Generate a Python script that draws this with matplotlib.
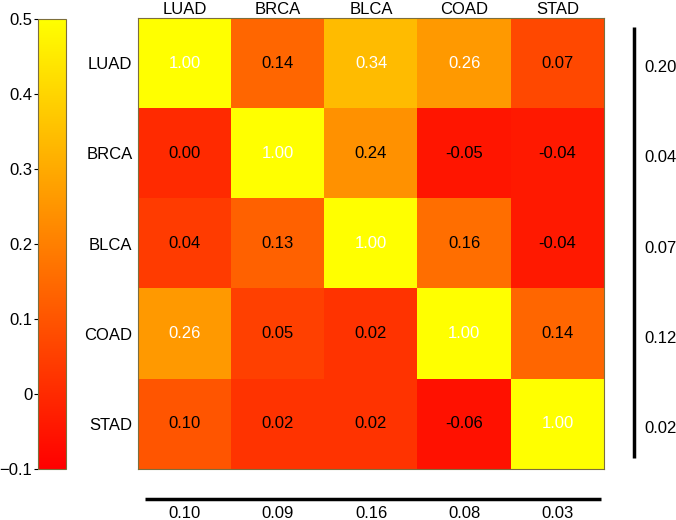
import numpy as np
import matplotlib
matplotlib.use("Agg")
import matplotlib.pyplot as plt
from matplotlib.transforms import blended_transform_factory
from matplotlib.ticker import FuncFormatter

plt.rcParams['font.family'] = ['Liberation Sans', 'DejaVu Sans']

cancers = ["LUAD", "BRCA", "BLCA", "COAD", "STAD"]
corr = np.array([
    [1.00, 0.14, 0.34, 0.26, 0.07],
    [0.00, 1.00, 0.24, -0.05, -0.04],
    [0.04, 0.13, 1.00, 0.16, -0.04],
    [0.26, 0.05, 0.02, 1.00, 0.14],
    [0.10, 0.02, 0.02, -0.06, 1.00],
])
row_side = [0.20, 0.04, 0.07, 0.12, 0.02]
col_side = [0.10, 0.09, 0.16, 0.08, 0.03]
cbar_ticks = [-0.1, 0, 0.1, 0.2, 0.3, 0.4, 0.5]

W, H = 676, 520
FS = 12
fig = plt.figure(figsize=(W / 100, H / 100), dpi=100)

def rect(x0, y0, x1, y1):
    return [x0 / W, 1 - y1 / H, (x1 - x0) / W, (y1 - y0) / H]

edge = '#7d6e3c'
ax = fig.add_axes(rect(138, 18, 604, 469))
im = ax.imshow(corr, cmap='autumn', vmin=-0.1, vmax=0.5, aspect='auto',
               interpolation='nearest')
ax.set_xticks(range(len(cancers)))
ax.set_xticklabels(cancers, fontsize=FS)
ax.set_yticks(range(len(cancers)))
ax.set_yticklabels(cancers, fontsize=FS)
ax.xaxis.tick_top()
ax.tick_params(axis='both', length=0)
ax.tick_params(axis='x', pad=1)
ax.tick_params(axis='y', pad=4)
for s in ax.spines.values():
    s.set_color(edge)
    s.set_linewidth(0.8)

for i in range(corr.shape[0]):
    for j in range(corr.shape[1]):
        v = corr[i, j]
        ax.text(j, i, f"{v:.2f}", ha='center', va='center', fontsize=FS,
                color='white' if v > 0.25 else 'black')

# right side values
tr = blended_transform_factory(ax.transAxes, ax.transData)
ax.plot([1.0644, 1.0644], [0.0244, 0.980], transform=ax.transAxes,
        color='black', lw=2.5, clip_on=False, solid_capstyle='butt')
for i, v in enumerate(row_side):
    ax.text(1.087, i + 0.05, f"{v:.2f}", transform=tr, ha='left', va='center',
            fontsize=FS)

# bottom values
tb = blended_transform_factory(ax.transData, ax.transAxes)
ax.plot([0.015, 0.9936], [-0.0665, -0.0665], transform=ax.transAxes,
        color='black', lw=2.5, clip_on=False, solid_capstyle='butt')
for j, v in enumerate(col_side):
    ax.text(j, -0.1095, f"{v:.2f}", transform=tb, ha='center', va='baseline',
            fontsize=FS)

# colorbar
cax = fig.add_axes(rect(38, 19, 66, 469))
cb = fig.colorbar(im, cax=cax, ticks=cbar_ticks)
cax.yaxis.set_ticks_position('left')
cax.yaxis.set_label_position('left')
cax.yaxis.set_major_formatter(FuncFormatter(lambda x, p: "0" if abs(x) < 1e-9 else f"{x:.1f}".replace('-', '\u2212')))
cax.tick_params(labelsize=FS, length=3, width=0.8, direction='out', pad=1)
cb.outline.set_edgecolor(edge)
cb.outline.set_linewidth(0.8)

fig.savefig("out.png", dpi=100)
